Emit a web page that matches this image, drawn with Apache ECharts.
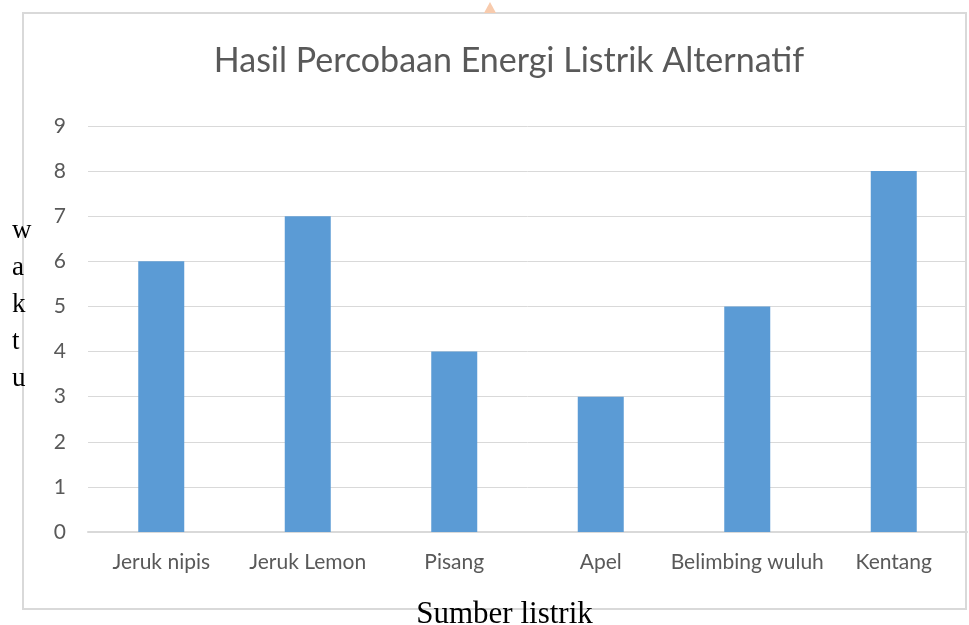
<!DOCTYPE html>
<html>
<head>
<meta charset="utf-8">
<script src="https://cdn.jsdelivr.net/npm/echarts@6/dist/echarts.min.js"></script>
<style>
  html, body { margin: 0; padding: 0; background: #fff; }
  #chart { width: 969px; height: 625px; }
</style>
</head>
<body>
<div id="chart"></div>
<script>
(function() {
  var categories = ["Jeruk nipis", "Jeruk Lemon", "Pisang", "Apel", "Belimbing wuluh", "Kentang"];
  var waktu = [6, 7, 4, 3, 5, 8];
  var yTicks = [0, 9, 1]; // min, max, interval

  var myChart = echarts.init(document.getElementById("chart"));

  var option = {
    backgroundColor: "#fff",
    animation: false,
    title: {
      text: "Hasil Percobaan Energi Listrik Alternatif",
      left: 504,
      textAlign: "center",
      top: 39,
      textStyle: {
        fontFamily: "Lato",
        fontSize: 34,
        fontWeight: "normal",
        color: "#595959"
      }
    },
    graphic: [
      {
        type: "rect",
        shape: { x: 23, y: 13, width: 943, height: 596 },
        style: { fill: "none", stroke: "#d9d9d9", lineWidth: 2 },
        z: -1
      },
      {
        type: "polygon",
        shape: { points: [[490, 2], [484, 13], [496, 13]] },
        style: { fill: "#f8cbad" }
      },
      {
        type: "text",
        left: 12,
        top: 212,
        style: {
          text: "w\na\nk\nt\nu",
          font: "27px 'Liberation Serif'",
          lineHeight: 37,
          fill: "#000"
        }
      }
    ],
    grid: { left: 88, right: 2, top: 126, bottom: 93, outerBoundsMode: "none" },
    xAxis: {
      type: "category",
      data: categories,
      name: "Sumber listrik",
      nameLocation: "middle",
      nameGap: 67,
      nameTextStyle: { fontFamily: "Liberation Serif", fontSize: 31, color: "#000", padding: [0, 46, 0, 0] },
      axisLine: { lineStyle: { color: "#d9d9d9", width: 2 } },
      axisTick: { show: false },
      axisLabel: { fontFamily: "Lato", fontSize: 21, color: "#595959", margin: 20, interval: 0 }
    },
    yAxis: {
      type: "value",
      min: yTicks[0],
      max: yTicks[1],
      interval: yTicks[2],
      axisLine: { show: false },
      axisTick: { show: false },
      axisLabel: { fontFamily: "Lato", fontSize: 21, color: "#595959", margin: 22 },
      splitLine: { lineStyle: { color: "#d9d9d9", width: 1 } }
    },
    series: [
      {
        name: "waktu",
        type: "bar",
        data: waktu,
        barWidth: 46,
        itemStyle: { color: "#5b9bd5" }
      }
    ]
  };
  myChart.setOption(option);
  window.addEventListener("resize", function() {
    myChart.resize();
  });
})();
</script>
</body>
</html>
